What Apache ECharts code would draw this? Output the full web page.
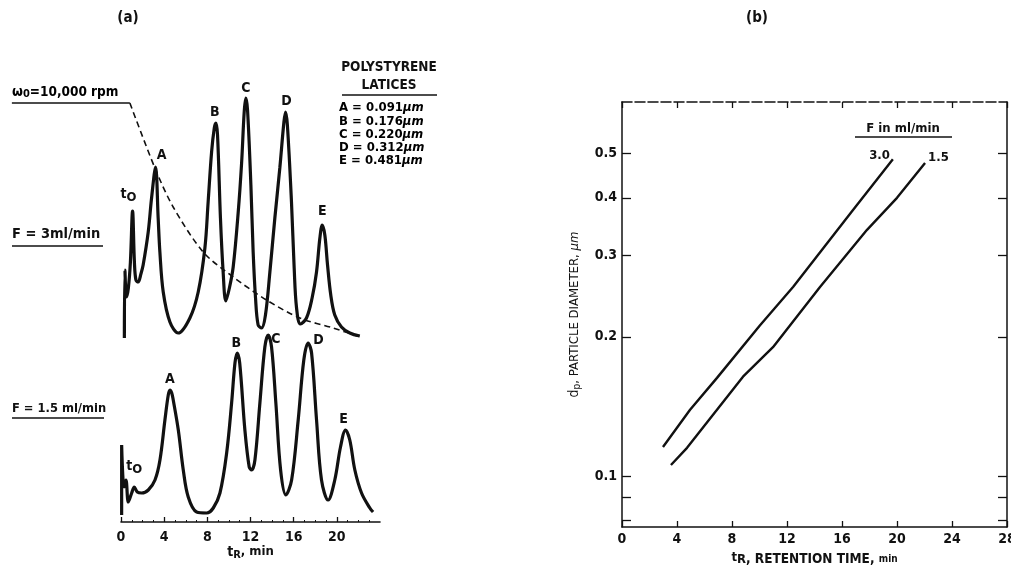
<!DOCTYPE html>
<html><head><meta charset="utf-8">
<script src="https://cdn.jsdelivr.net/npm/echarts@6/dist/echarts.min.js"></script>
<style>html,body{margin:0;padding:0;background:#fff}#c{width:1011px;height:565px}</style>
</head><body><div id="c"></div>
<script>
// ---------- Panel (a): fractograms, detector signal (arbitrary units) vs retention time (min)
// F = 3 ml/min trace
const topTime   = [0.32,0.37,0.51,0.69,0.88,1.08,1.25,1.39,1.6,1.85,2.06,2.53,2.84,3.21,3.45,3.61,3.92,4.54,5.31,6.39,7.16,7.78,8.08,8.4,8.65,8.8,8.95,9.22,9.47,9.72,10.05,10.4,10.86,11.18,11.42,11.57,11.73,12.04,12.25,12.47,12.71,13.03,13.39,13.8,14.26,14.72,15.1,15.25,15.42,15.8,16.05,16.27,16.63,17.19,17.71,18.12,18.43,18.65,18.89,19.14,19.44,19.81,20.43,21.2,22.13];
const topSignal = [2,70,43,52,78,129,78,60,58,66,75,108,142,173,122,88,48,18,7,22,48,92,138,188,212,217,205,122,68,39,52,73,127,177,228,242,230,155,88,42,15,12,25,68,122,172,218,228,215,138,72,32,16,22,42,68,102,115,105,75,45,25,13,7,4];
// rotor speed programme (dashed), w0 = 10,000 rpm hold then decay
const holdTime  = [-10.1,0.83];
const holdValue = [237,237];
const decayTime  = [0.83,3.15,4.84,7.62,10.4,13.49,16.57,19.66,22.13];
const decayValue = [237,172,133,88,63,40,22,12,3];
// F = 1.5 ml/min trace
const bottomTime   = [0.06,0.06,0.28,0.46,0.68,0.99,1.23,1.51,1.92,2.53,3.15,3.61,4.07,4.38,4.54,4.7,4.84,5.31,5.77,6.23,7.01,7.94,8.55,9.17,9.79,10.25,10.56,10.77,11.0,11.48,11.88,12.1,12.41,12.87,13.33,13.64,13.95,14.35,14.79,15.28,15.81,16.42,16.94,17.34,17.66,18.12,18.58,19.19,19.81,20.34,20.81,21.2,21.67,22.29,23.06,23.36];
const bottomSignal = [7,77,35,42,20,29,35,30,29,32,42,62,102,127,132,129,122,92,52,25,10,9,14,29,69,119,159,169,159,92,55,52,62,119,175,187,175,119,52,27,42,102,162,179,169,102,42,22,42,75,92,82,52,29,14,10];
const peakNames = ['t0','A','B','C','D','E'];
const topPeakTimes = [1.08,3.21,8.8,11.57,15.25,18.65];
const bottomPeakTimes = [1.23,4.54,10.77,13.64,17.34,20.81];
const timeTicksA = [0,4,8,12,16,20];
// latex standards
const latexNames = ['A','B','C','D','E'];
const latexDiameters = ['0.091','0.176','0.220','0.312','0.481'];

// ---------- Panel (b): particle diameter vs retention time
const flowLabels = ['3.0','1.5'];
const timeF30 = [2.98,4.95,6.91,10.04,12.44,16.8,19.7];
const diamF30 = [0.1155,0.139,0.163,0.212,0.2565,0.3765,0.485];
const timeF15 = [3.56,4.73,8.8,10.98,14.4,17.82,20.0,22.04];
const diamF15 = [0.1056,0.115,0.164,0.190,0.2565,0.341,0.400,0.476];
const diamTickValues = [0.1,0.2,0.3,0.4,0.5];
const diamAllTicks = [0.08,0.09,0.1,0.2,0.3,0.4,0.5];
const timeTicksB = [0,4,8,12,16,20,24,28];

const FONT = '"DejaVu Sans Condensed", "DejaVu Sans", sans-serif';
const K = '#111';
const zip = (a,b) => a.map((v,i)=>[v,b[i]]);

const lblBase = {color:K, opacity:1, fontFamily:FONT, fontWeight:'bold', fontSize:14};
const t0Label = {formatter:'{a|t}{b|O}', rich:{a:{fontFamily:FONT,fontWeight:'bold',fontSize:14,color:K},b:{fontFamily:FONT,fontWeight:'bold',fontSize:13,color:K,padding:[6,0,0,0]}}};
const topStyles = [
  Object.assign({}, lblBase, t0Label, {position:'top', offset:[-4,-2]}),
  Object.assign({}, lblBase, {formatter:'A', position:'top', offset:[6,0]}),
  Object.assign({}, lblBase, {formatter:'B', position:'top', offset:[-1,1]}),
  Object.assign({}, lblBase, {formatter:'C', position:'top', offset:[0,2]}),
  Object.assign({}, lblBase, {formatter:'D', position:'top', offset:[1,1]}),
  Object.assign({}, lblBase, {formatter:'E', position:'top', offset:[0,-2]})
];
const bottomStyles = [
  Object.assign({}, lblBase, t0Label, {position:'top', offset:[0,-6]}),
  Object.assign({}, lblBase, {formatter:'A', position:'top', offset:[0,1]}),
  Object.assign({}, lblBase, {formatter:'B', position:'top', offset:[-1,2]}),
  Object.assign({}, lblBase, {formatter:'C', position:'right', offset:[-2,4]}),
  Object.assign({}, lblBase, {formatter:'D', position:'right', offset:[0,-3]}),
  Object.assign({}, lblBase, {formatter:'E', position:'top', offset:[-2,1]})
];
function peakLabelData(times, values, peakTimes, styles){
  return peakTimes.map((t,k)=>({value:[t, values[times.indexOf(t)]], label:Object.assign({show:true}, styles[k])}));
}

const chart = echarts.init(document.getElementById('c'), null, {renderer:'canvas'});
const axisFont = {color:K, fontFamily:FONT, fontWeight:'bold', fontSize:14};

function gtext(text, x, y, opts){
  return {type:'text', x, y, style:Object.assign({text, fill:K, fontFamily:FONT, fontWeight:'bold', fontSize:14, textAlign:'left', textVerticalAlign:'middle'}, opts||{})};
}
function gline(x1,y1,x2,y2,w){
  return {type:'line', shape:{x1,y1,x2,y2}, style:{stroke:K, lineWidth:w||1.4}};
}

const graphics = [
  gtext('(a)', 128, 18, {textAlign:'center', fontSize:15}),
  gtext('(b)', 757, 18, {textAlign:'center', fontSize:15}),
  {type:'text', x:12, y:92, style:{text:'{w|ω}{s|0}{t|=10,000 rpm}', textVerticalAlign:'middle', rich:{
    w:{fontFamily:FONT,fontWeight:'bold',fontSize:14,color:K},
    s:{fontFamily:FONT,fontWeight:'bold',fontSize:11,color:K,padding:[5,0,0,0]},
    t:{fontFamily:FONT,fontWeight:'bold',fontSize:13.5,color:K}}}},
  gtext('F = 3ml/min', 12, 234, {fontSize:14.5}),
  gline(12, 246, 103, 246),
  gtext('F = 1.5 ml/min', 12, 409, {fontSize:12.8}),
  gline(12, 418, 104, 418),
  gtext('POLYSTYRENE', 389, 67, {textAlign:'center', fontSize:13.5}),
  gtext('LATICES', 389, 85, {textAlign:'center', fontSize:13.5}),
  gline(342, 95, 437, 95),
  gtext('F in ml/min', 903, 129, {textAlign:'center', fontSize:13}),
  gline(855, 137, 952, 137)
];
latexNames.forEach((n,i)=>{
  graphics.push({type:'text', x:339, y:108+i*13.2, style:{text:'{a|'+n+' = '+latexDiameters[i]+'}{b|μm}', textVerticalAlign:'middle', rich:{
    a:{fontFamily:FONT,fontWeight:'bold',fontSize:13,color:K},
    b:{fontFamily:FONT,fontWeight:'bold',fontStyle:'italic',fontSize:13,color:K}}}});
});

const labelSeries = {type:'scatter', symbolSize:0, silent:true, itemStyle:{opacity:1}, emphasis:{disabled:true}};

const option = {
  backgroundColor:'#fff',
  animation:false,
  graphic: graphics,
  grid:[
    {left:10.8, top:90, width:369.2, height:250, outerBoundsMode:'none', containLabel:false},
    {left:121, top:322, width:259, height:200, outerBoundsMode:'none', containLabel:false},
    {left:622, top:102, width:385, height:425, outerBoundsMode:'none', containLabel:false}
  ],
  xAxis:[
    {gridIndex:0, type:'value', min:-10.2, max:24, show:false},
    {gridIndex:1, type:'value', min:0, max:24, interval:4,
      axisLine:{show:true, onZero:false, lineStyle:{color:K, width:1.6}},
      axisTick:{show:true, inside:true, length:5, lineStyle:{color:K,width:1.3}, customValues:timeTicksA},
      minorTick:{show:true, splitNumber:4, length:2, lineStyle:{color:K}},
      splitLine:{show:false},
      axisLabel:Object.assign({margin:8, customValues:timeTicksA}, axisFont),
      name:'{a|t}{b|R}{c|, min}', nameLocation:'middle', nameGap:21,
      nameTextStyle:{rich:{a:{fontFamily:FONT,fontWeight:'bold',fontSize:14,color:K},b:{fontFamily:FONT,fontWeight:'bold',fontSize:11,color:K,padding:[6,0,0,0]},c:{fontFamily:FONT,fontWeight:'bold',fontSize:13,color:K}}}
    },
    {gridIndex:2, type:'value', min:0, max:28, interval:4, position:'bottom',
      axisLine:{show:true, onZero:false, lineStyle:{color:K, width:1.6}},
      axisTick:{show:true, inside:true, length:6, lineStyle:{color:K,width:1.3}, customValues:timeTicksB},
      splitLine:{show:false},
      axisLabel:Object.assign({margin:5, customValues:timeTicksB}, axisFont),
      name:'{a|t}{b|R}{c|, RETENTION TIME, }{d|min}', nameLocation:'middle', nameGap:22,
      nameTextStyle:{rich:{a:{fontFamily:FONT,fontWeight:'bold',fontSize:13,color:K,padding:[0,0,4,0]},b:{fontFamily:FONT,fontWeight:'bold',fontSize:13,color:K},c:{fontFamily:FONT,fontWeight:'bold',fontSize:13.5,color:K},d:{fontFamily:FONT,fontWeight:'bold',fontSize:10,color:K}}}
    },
    {gridIndex:2, type:'value', min:0, max:28, interval:4, position:'top',
      axisLine:{show:true, onZero:false, lineStyle:{color:K, width:1.5, type:[10,3]}},
      axisTick:{show:true, inside:true, length:6, lineStyle:{color:K,width:1.3}},
      axisLabel:{show:false}, splitLine:{show:false}}
  ],
  yAxis:[
    {gridIndex:0, type:'value', min:0, max:250, show:false},
    {gridIndex:1, type:'value', min:0, max:200, show:false},
    {gridIndex:2, type:'log', min:0.0775, max:0.645, position:'left',
      axisLine:{show:true, onZero:false, lineStyle:{color:K, width:1.5}},
      axisTick:{show:true, inside:true, length:9, lineStyle:{color:K,width:1.3}, customValues:diamAllTicks},
      minorTick:{show:false}, splitLine:{show:false},
      axisLabel:Object.assign({margin:5, customValues:diamTickValues, formatter:v=>String(+v.toFixed(2))}, axisFont),
      name:'{a|d}{b|p}{c|, PARTICLE DIAMETER, }{d|μm}', nameLocation:'middle', nameGap:40, nameRotate:90,
      nameTextStyle:{rich:{a:{fontFamily:FONT,fontSize:14,color:K},b:{fontFamily:FONT,fontSize:10,color:K,padding:[5,0,0,0]},c:{fontFamily:FONT,fontSize:13,color:K},d:{fontFamily:FONT,fontStyle:'italic',fontSize:13,color:K}}}
    },
    {gridIndex:2, type:'log', min:0.0775, max:0.645, position:'right',
      axisLine:{show:true, onZero:false, lineStyle:{color:K, width:1.5}},
      axisTick:{show:true, inside:true, length:9, lineStyle:{color:K,width:1.3}, customValues:diamAllTicks},
      axisLabel:{show:false}, splitLine:{show:false}, minorTick:{show:false}}
  ],
  series:[
    {type:'line', xAxisIndex:0, yAxisIndex:0, data:zip(holdTime, holdValue), symbol:'none', lineStyle:{color:K, width:1.6}, silent:true},
    {type:'line', xAxisIndex:0, yAxisIndex:0, data:zip(decayTime, decayValue), symbol:'none', smooth:0.3, lineStyle:{color:K, width:1.6, type:[6,4]}, silent:true},
    {type:'line', xAxisIndex:0, yAxisIndex:0, data:zip(topTime, topSignal), symbol:'none', smooth:0.35, lineStyle:{color:K, width:3.2}, silent:true},
    {type:'line', xAxisIndex:1, yAxisIndex:1, data:zip(bottomTime, bottomSignal), symbol:'none', smooth:0.35, lineStyle:{color:K, width:3.2}, silent:true},
    Object.assign({}, labelSeries, {xAxisIndex:0, yAxisIndex:0, data:peakLabelData(topTime, topSignal, topPeakTimes, topStyles)}),
    Object.assign({}, labelSeries, {xAxisIndex:1, yAxisIndex:1, data:peakLabelData(bottomTime, bottomSignal, bottomPeakTimes, bottomStyles)}),
    {type:'line', xAxisIndex:2, yAxisIndex:2, symbol:'none', lineStyle:{color:K, width:2.4}, silent:true, data:zip(timeF30, diamF30)},
    {type:'line', xAxisIndex:2, yAxisIndex:2, symbol:'none', lineStyle:{color:K, width:2.4}, silent:true, data:zip(timeF15, diamF15)},
    Object.assign({}, labelSeries, {xAxisIndex:2, yAxisIndex:2, data:[
      {value:[timeF30[timeF30.length-1], diamF30[diamF30.length-1]], label:Object.assign({show:true, formatter:flowLabels[0], position:'left', offset:[2,-4]}, lblBase, {fontSize:13})},
      {value:[timeF15[timeF15.length-1], diamF15[diamF15.length-1]], label:Object.assign({show:true, formatter:flowLabels[1], position:'right', offset:[-2,-5]}, lblBase, {fontSize:13})}
    ]})
  ]
};
chart.setOption(option);
</script></body></html>
